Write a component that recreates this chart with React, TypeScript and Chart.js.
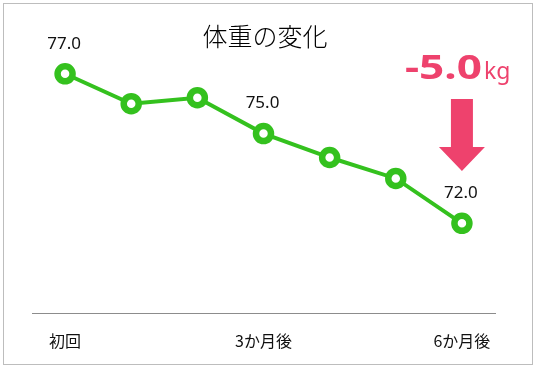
import React, { useEffect, useRef } from "react";
import { Chart, registerables } from "chart.js";

Chart.register(...registerables);

const categories = ["初回", "1か月後", "2か月後", "3か月後", "4か月後", "5か月後", "6か月後"];
const weights = [77.0, 76.0, 76.2, 75.0, 74.2, 73.5, 72.0];
const tickIndices = [0, 3, 6];
const labelIndices = [0, 3, 6];
const titleText = "体重の変化";
const diffText = "-5.0";
const unitText = "kg";

const GREEN = "rgb(52,193,30)";
const PINK = "#EE426D";
const JP = '"Noto Sans CJK JP", "Noto Sans", sans-serif';

const overlayPlugin = {
  id: "overlay",
  afterDatasetsDraw(chart: any) {
    const ctx = chart.ctx;
    const meta = chart.getDatasetMeta(0);
    ctx.save();
    // data labels
    ctx.fillStyle = "#111";
    ctx.font = '17px "Noto Sans", sans-serif';
    ctx.textAlign = "center";
    ctx.textBaseline = "middle";
    labelIndices.forEach((i) => {
      const p = meta.data[i];
      ctx.fillText(weights[i].toFixed(1), p.x - 1, p.y - 30);
    });
    // title
    ctx.font = "300 25px " + JP;
    ctx.fillStyle = "#000";
    ctx.fillText(titleText, 265, 36);
    // diff text
    ctx.fillStyle = PINK;
    ctx.textAlign = "left";
    ctx.textBaseline = "alphabetic";
    ctx.font = 'bold 34px "Noto Sans", sans-serif';
    const w = ctx.measureText(diffText).width;
    ctx.save();
    ctx.translate(405, 79);
    ctx.scale(77 / w, 1);
    ctx.fillText(diffText, 0, 0);
    ctx.restore();
    ctx.font = '23px "Noto Sans", sans-serif';
    ctx.fillText(unitText, 484, 79);
    // arrow
    const last = meta.data[meta.data.length - 1];
    const cx = last.x;
    ctx.beginPath();
    ctx.moveTo(cx - 11, 99);
    ctx.lineTo(cx + 11, 99);
    ctx.lineTo(cx + 11, 147);
    ctx.lineTo(cx + 23, 147);
    ctx.lineTo(cx, 171);
    ctx.lineTo(cx - 23, 147);
    ctx.lineTo(cx - 11, 147);
    ctx.closePath();
    ctx.fill();
    ctx.restore();
  },
};

export default function App() {
  const ref = useRef<HTMLCanvasElement>(null);
  useEffect(() => {
    const chart = new Chart(ref.current!, {
      type: "line",
      data: {
        labels: categories,
        datasets: [
          {
            data: weights,
            borderColor: GREEN,
            borderWidth: 4,
            pointRadius: 7.5,
            pointBorderWidth: 6.5,
            pointBackgroundColor: "#fff",
            pointBorderColor: GREEN,
            tension: 0,
            clip: false as any,
          },
        ],
      },
      options: {
        responsive: false,
        animation: false,
        layout: { padding: { left: 32, right: 39, top: 11, bottom: 0 } },
        plugins: { legend: { display: false }, tooltip: { enabled: false }, title: { display: false } },
        scales: {
          x: {
            offset: true,
            grid: { display: false, drawTicks: false },
            border: { display: true, color: "#8c8c8c", width: 1 },
            afterFit: (s: any) => {
              s.height = 56;
            },
            ticks: {
              autoSkip: false,
              maxRotation: 0,
              padding: 18,
              color: "#111",
              font: { family: JP, size: 16 },
              callback: (_v: any, i: number) => (tickIndices.includes(i) ? categories[i] : ""),
            },
          },
          y: { display: false, min: 69, max: 79 },
        },
      },
      plugins: [overlayPlugin],
    });
    return () => chart.destroy();
  }, []);
  return (
    <div style={{ position: "absolute", left: 0, top: 0, width: 534, height: 369, background: "#fff" }}>
      <canvas ref={ref} width={534} height={369} style={{ display: "block" }} />
      <div
        style={{
          position: "absolute",
          left: 3,
          top: 3,
          width: 528,
          height: 360,
          border: "1px solid #bdbdbd",
          pointerEvents: "none",
        }}
      />
    </div>
  );
}
